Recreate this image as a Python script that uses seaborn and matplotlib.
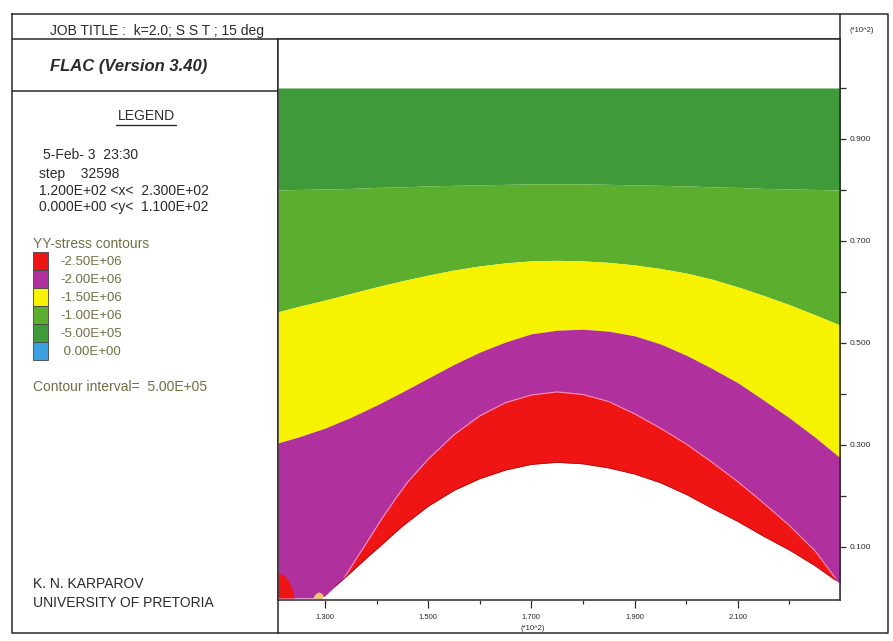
import numpy as np
import matplotlib

matplotlib.use("Agg")
import matplotlib.pyplot as plt
import seaborn as sns
from matplotlib.patches import Rectangle

# ---- contour band boundaries (x, y in *10^2 m) ----
x_nodes = [1.209, 1.25, 1.30, 1.35, 1.40, 1.45, 1.50, 1.55, 1.60, 1.65, 1.70, 1.75,
           1.80, 1.85, 1.90, 1.95, 2.00, 2.05, 2.10, 2.15, 2.20, 2.25, 2.298]
green_split = [0.800, 0.801, 0.802, 0.803, 0.805, 0.806, 0.808, 0.809, 0.810, 0.811, 0.812, 0.812,
               0.812, 0.811, 0.810, 0.809, 0.808, 0.806, 0.805, 0.803, 0.802, 0.801, 0.800]
yellow_top = [0.561, 0.572, 0.584, 0.597, 0.610, 0.622, 0.633, 0.643, 0.651, 0.657, 0.661, 0.662,
              0.661, 0.658, 0.653, 0.646, 0.637, 0.625, 0.610, 0.593, 0.575, 0.555, 0.535]
yellow_bottom = [0.304, 0.316, 0.333, 0.354, 0.378, 0.404, 0.431, 0.458, 0.482, 0.502, 0.518, 0.525,
                 0.527, 0.523, 0.514, 0.498, 0.476, 0.450, 0.422, 0.388, 0.353, 0.315, 0.275]
grid_top = [1.0] * len(x_nodes)

x_red = [1.336, 1.357, 1.38, 1.41, 1.435, 1.46, 1.50, 1.55, 1.60, 1.65, 1.70, 1.75, 1.80,
         1.85, 1.90, 1.95, 2.00, 2.05, 2.10, 2.15, 2.20, 2.25, 2.289]
red_top = [0.037, 0.071, 0.107, 0.155, 0.192, 0.227, 0.272, 0.320, 0.357, 0.383, 0.398, 0.404, 0.399,
           0.385, 0.361, 0.333, 0.302, 0.266, 0.228, 0.186, 0.142, 0.092, 0.039]

x_exc = [1.295, 1.32, 1.351, 1.38, 1.406, 1.45, 1.50, 1.55, 1.60, 1.65, 1.70, 1.75, 1.80,
         1.85, 1.90, 1.95, 2.00, 2.05, 2.10, 2.15, 2.20, 2.25, 2.289, 2.298]
exc_top = [0.0, 0.023, 0.051, 0.078, 0.101, 0.141, 0.180, 0.211, 0.234, 0.251, 0.262, 0.266, 0.263,
           0.255, 0.243, 0.226, 0.203, 0.176, 0.150, 0.121, 0.094, 0.063, 0.035, 0.029]

x_corner = [1.209, 1.220, 1.230, 1.236, 1.240]
corner_top = [0.049, 0.045, 0.033, 0.018, 0.0]

x_spot = [1.276, 1.282, 1.288, 1.294, 1.299]
spot_top = [0.0, 0.009, 0.012, 0.009, 0.0]

# legend
levels = ["-2.50E+06", "-2.00E+06", "-1.50E+06", "-1.00E+06", "-5.00E+05", " 0.00E+00"]
band_colors = ["#f01515", "#b0309e", "#f7f200", "#5caf2e", "#3f9a3a", "#3aa0e0"]
x_ticks = [1.3, 1.5, 1.7, 1.9, 2.1]
x_minor = [1.4, 1.6, 1.8, 2.0, 2.2]
y_ticks = [0.1, 0.3, 0.5, 0.7, 0.9]
y_minor = [0.2, 0.4, 0.6, 0.8, 1.0]

sns.set_theme(style="white")
plt.rcParams["font.family"] = ["Liberation Sans", "DejaVu Sans"]

fig = plt.figure(figsize=(8.93, 6.41), dpi=100)

# page frame drawn in pixel coordinates
bg = fig.add_axes([0, 0, 1, 1], zorder=0)
bg.set_xlim(0, 893)
bg.set_ylim(641, 0)
bg.axis("off")
ink = "#2a2a2a"
frame = dict(color=ink, lw=1.1)
bg.plot([12, 888, 888, 12, 12], [14, 14, 633, 633, 14], **frame)
bg.plot([12, 840], [39, 39], **frame)
bg.plot([840, 840], [14, 600], **frame)
bg.plot([278, 278], [39, 633], **frame)
bg.plot([12, 278], [91, 91], **frame)

bg.text(50, 31, "JOB TITLE :  k=2.0; S S T ; 15 deg", fontsize=10, color=ink, va="center")
bg.text(50, 66, "FLAC (Version 3.40)", fontsize=12, color=ink, va="center",
        fontweight="bold", fontstyle="italic")
bg.text(146, 116, "LEGEND", fontsize=10, color=ink, va="center", ha="center")
bg.plot([116, 176], [125, 125], color=ink, lw=1)
info = ["5-Feb- 3  23:30", "step    32598", "1.200E+02 <x<  2.300E+02", "0.000E+00 <y<  1.100E+02"]
for i, (line, y) in enumerate(zip(info, [155, 174, 191, 207])):
    bg.text(43 if i == 0 else 39, y, line, fontsize=10, color=ink, va="center")

olive = "#6e7045"
bg.text(33, 244, "YY-stress contours", fontsize=10, color=olive, va="center")
for i, (lab, col) in enumerate(zip(levels, band_colors)):
    y0 = 252 + i * 18
    bg.add_patch(Rectangle((33, y0), 15, 18, facecolor=col, edgecolor="#444444", lw=0.6))
    bg.text(60, y0 + 10, lab, fontsize=9.5, color=olive, va="center")
bg.text(33, 387, "Contour interval=  5.00E+05", fontsize=10, color=olive, va="center")

bg.text(33, 584, "K. N. KARPAROV", fontsize=10, color=ink, va="center")
bg.text(33, 603, "UNIVERSITY OF PRETORIA", fontsize=10, color=ink, va="center")
bg.text(862, 30, "(*10^2)", fontsize=5.5, color=ink, va="center", ha="center")
bg.text(533, 628, "(*10^2)", fontsize=5.5, color=ink, va="center", ha="center")

# ---- contour plot ----
ax = fig.add_axes([278 / 893, 1 - 600 / 641, 562 / 893, 561 / 641], zorder=1)
ax.fill_between(x_nodes, green_split, grid_top, color=band_colors[4], lw=0)
ax.fill_between(x_nodes, yellow_top, green_split, color=band_colors[3], lw=0)
ax.fill_between(x_nodes, yellow_bottom, yellow_top, color=band_colors[2], lw=0)
ax.fill_between(x_nodes, 0, yellow_bottom, color=band_colors[1], lw=0)
ax.fill_between(x_red, 0, red_top, color=band_colors[0], lw=0)
ax.fill_between(x_corner, 0, corner_top, color=band_colors[0], lw=0)
ax.fill_between(x_spot, 0, spot_top, color="#f3c86a", lw=0)
ax.fill_between(x_exc, -0.01, exc_top, color="white", lw=0)
sns.lineplot(x=x_red, y=red_top, ax=ax, color="#ff8fb0", lw=0.8, sort=False)
sns.lineplot(x=x_exc[1:-1], y=exc_top[1:-1], ax=ax, color="#b01010", lw=0.6, sort=False)

ax.set_xlim(1.209, 2.298)
ax.set_ylim(-0.004, 1.096)
ax.set_xlabel("")
ax.set_ylabel("")
ax.set_xticks(x_ticks)
ax.set_xticklabels([f"{v:.3f}" for v in x_ticks])
ax.set_xticks(x_minor, minor=True)
ax.yaxis.tick_right()
ax.set_yticks(y_ticks)
ax.set_yticklabels([f"{v:.3f}" for v in y_ticks])
ax.set_yticks(y_minor, minor=True)
ax.tick_params(axis="x", which="both", bottom=True, direction="out", color=ink,
               labelsize=5.5, labelcolor=ink, pad=4)
ax.tick_params(axis="x", which="major", length=6, width=0.9)
ax.tick_params(axis="x", which="minor", length=3, width=0.9)
ax.tick_params(axis="y", which="both", right=True, left=False, direction="out", length=4,
               width=0.9, color=ink, labelsize=6, labelcolor=ink, pad=3)
for side in ax.spines.values():
    side.set_visible(True)
    side.set_color(ink)
    side.set_linewidth(1.1)
ax.set_facecolor("white")

fig.savefig("out.png", dpi=100, facecolor="white")
